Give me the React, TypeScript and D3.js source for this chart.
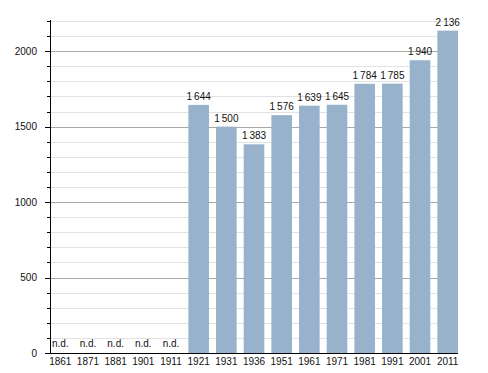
import React, { useEffect, useRef } from "react";
import * as d3 from "d3";

const years = ["1861","1871","1881","1901","1911","1921","1931","1936","1951","1961","1971","1981","1991","2001","2011"];
const population: (number | null)[] = [null,null,null,null,null,1644,1500,1383,1576,1639,1645,1784,1785,1940,2136];
const yMajorTicks = [0, 500, 1000, 1500, 2000];

const W = 488, H = 373;
const left = 50, right = 458, top = 21, bottom = 353;

export default function App() {
  const ref = useRef<SVGSVGElement>(null);
  useEffect(() => {
    const svg = d3.select(ref.current);
    svg.selectAll("*").remove();
    const font = "'Liberation Sans', Arial, Helvetica, sans-serif";
    const x = d3.scaleBand<string>().domain(years).range([left, right]).paddingInner(0.255).paddingOuter(0);
    const y = d3.scaleLinear().domain([0, 2200]).range([bottom, top]);
    const minor = d3.range(0, 2201, 100);

    const g = svg.append("g");
    // gridlines
    g.selectAll("line.minor").data(minor.filter(v => v % 500 !== 0)).join("line")
      .attr("x1", left).attr("x2", right)
      .attr("y1", d => Math.round(y(d)) + 0.5).attr("y2", d => Math.round(y(d)) + 0.5)
      .attr("stroke", "#e2e2e2").attr("stroke-width", 1);
    g.selectAll("line.major").data(yMajorTicks.filter(v => v > 0)).join("line")
      .attr("x1", left).attr("x2", right)
      .attr("y1", d => Math.round(y(d)) + 0.5).attr("y2", d => Math.round(y(d)) + 0.5)
      .attr("stroke", "#a8a8a8").attr("stroke-width", 1);

    // bars
    const data = years.map((yr, i) => ({ yr, v: population[i] }));
    g.selectAll("rect.bar").data(data.filter(d => d.v != null)).join("rect")
      .attr("x", d => x(d.yr)!).attr("width", x.bandwidth())
      .attr("y", d => y(d.v as number)).attr("height", d => bottom - y(d.v as number))
      .attr("fill", "#98b2cc");

    const fmt = (v: number) => d3.format(",")(v).replace(/,/g, "\u2009");
    g.selectAll("text.val").data(data).join("text")
      .attr("x", d => x(d.yr)! + x.bandwidth() / 2)
      .attr("y", d => d.v == null ? bottom - 6 : y(d.v) - 5)
      .attr("text-anchor", "middle")
      .attr("font-family", font).attr("font-size", 10).attr("fill", "#111")
      .text(d => d.v == null ? "n.d." : fmt(d.v));

    // axes
    g.append("line").attr("x1", left + 0.5).attr("x2", left + 0.5).attr("y1", top - 1).attr("y2", bottom + 0.5)
      .attr("stroke", "#000").attr("stroke-width", 1);
    g.append("line").attr("x1", left - 5).attr("x2", right).attr("y1", bottom + 0.5).attr("y2", bottom + 0.5)
      .attr("stroke", "#000").attr("stroke-width", 1);
    g.selectAll("line.mt").data(minor).join("line")
      .attr("x1", d => d % 500 === 0 ? left - 5 : left - 3).attr("x2", left)
      .attr("y1", d => Math.round(y(d)) + 0.5).attr("y2", d => Math.round(y(d)) + 0.5)
      .attr("stroke", "#000").attr("stroke-width", 1);
    g.selectAll("text.yt").data(yMajorTicks).join("text")
      .attr("x", 37).attr("y", d => y(d) + 3.5)
      .attr("text-anchor", "end")
      .attr("font-family", font).attr("font-size", 10).attr("fill", "#111")
      .text(d => String(d));
    g.selectAll("text.xt").data(years).join("text")
      .attr("x", d => x(d)! + x.bandwidth() / 2).attr("y", 364.5)
      .attr("text-anchor", "middle")
      .attr("font-family", font).attr("font-size", 10).attr("fill", "#111")
      .text(d => d);
  }, []);
  return (
    <svg ref={ref} width={W} height={H} style={{ position: "absolute", left: 0, top: 0, background: "#fff" }} />
  );
}
